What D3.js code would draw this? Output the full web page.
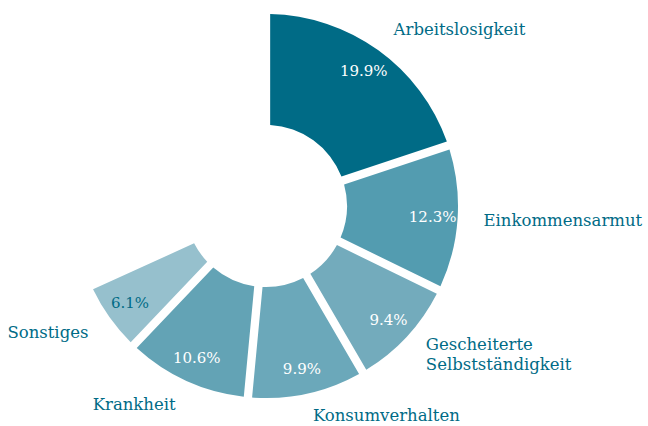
<!DOCTYPE html>
<html>
<head>
<meta charset="utf-8">
<script src="https://cdn.jsdelivr.net/npm/d3@7"></script>
<style>
  body { margin: 0; background: #fff; }
  svg text { font-family: 'DejaVu Serif', serif; }
</style>
</head>
<body>
<div id="chart"></div>
<script>
// Anteile in Prozent (Rest bleibt leer)
const categories = ['Arbeitslosigkeit', 'Einkommensarmut', 'Gescheiterte Selbstständigkeit', 'Konsumverhalten', 'Krankheit', 'Sonstiges']
const values = [19.9, 12.3, 9.4, 9.9, 10.6, 6.1]
const colors = ['#006b86', '#539cb0', '#73abbc', '#6ba8ba', '#63a3b5', '#96c0cd']

const width = 648
const height = 426
const cx = 266
const cy = 206
const rIn = 81
const rOut = 192

const svg = d3.select('#chart')
  .append('svg')
  .attr('width', width)
  .attr('height', height)

const g = svg.append('g').attr('transform', `translate(${cx},${cy})`)

const data = categories.map((c, i) => ({ name: c, value: values[i], color: colors[i] }))

// Winkel proportional zu 100 %, nicht zur Summe
const angle = d3.scaleLinear().domain([0, 100]).range([0, 2 * Math.PI])
let acc = 0
data.forEach(d => {
  d.startAngle = angle(acc)
  acc += d.value
  d.endAngle = angle(acc)
  d.padAngle = 0.04
})

const arc = d3.arc().innerRadius(rIn).outerRadius(rOut)
const labelArc = d3.arc().innerRadius(167).outerRadius(167)

g.selectAll('.slice')
  .data(data)
  .enter()
  .append('path')
  .attr('class', 'slice')
  .attr('d', arc)
  .attr('fill', d => d.color)

// Prozentwerte
g.selectAll('.pct')
  .data(data)
  .enter()
  .append('text')
  .attr('class', 'pct')
  .attr('transform', d => `translate(${labelArc.centroid(d)})`)
  .attr('text-anchor', 'middle')
  .attr('dy', '0.35em')
  .attr('font-size', 15)
  .attr('fill', (d, i) => i === 5 ? '#006b86' : '#fff')
  .text(d => d3.format('.1f')(d.value) + '%')

// Kategorien außen
const rLabel = 218
const fs = 16.5
g.selectAll('.lbl')
  .data(data)
  .enter()
  .append('text')
  .attr('class', 'lbl')
  .each(function (d) {
    const a = (d.startAngle + d.endAngle) / 2
    const x = Math.sin(a) * rLabel
    // nicht über den unteren Rand hinaus
    const y = Math.min(-Math.cos(a) * rLabel, height - cy - 5 - fs * 0.35)
    const t = d3.select(this)
      .attr('x', x)
      .attr('y', y)
      .attr('text-anchor', Math.sin(a) > 0 ? 'start' : 'end')
      .attr('font-size', fs)
      .attr('fill', '#006b86')
    const lines = d.name === 'Gescheiterte Selbstständigkeit' ? ['Gescheiterte', 'Selbstständigkeit'] : [d.name]
    lines.forEach((l, j) => {
      t.append('tspan')
        .attr('x', x)
        .attr('dy', j === 0 ? (0.35 - (lines.length - 1) * 0.6) + 'em' : '1.2em')
        .text(l)
    })
  })
</script>
</body>
</html>
